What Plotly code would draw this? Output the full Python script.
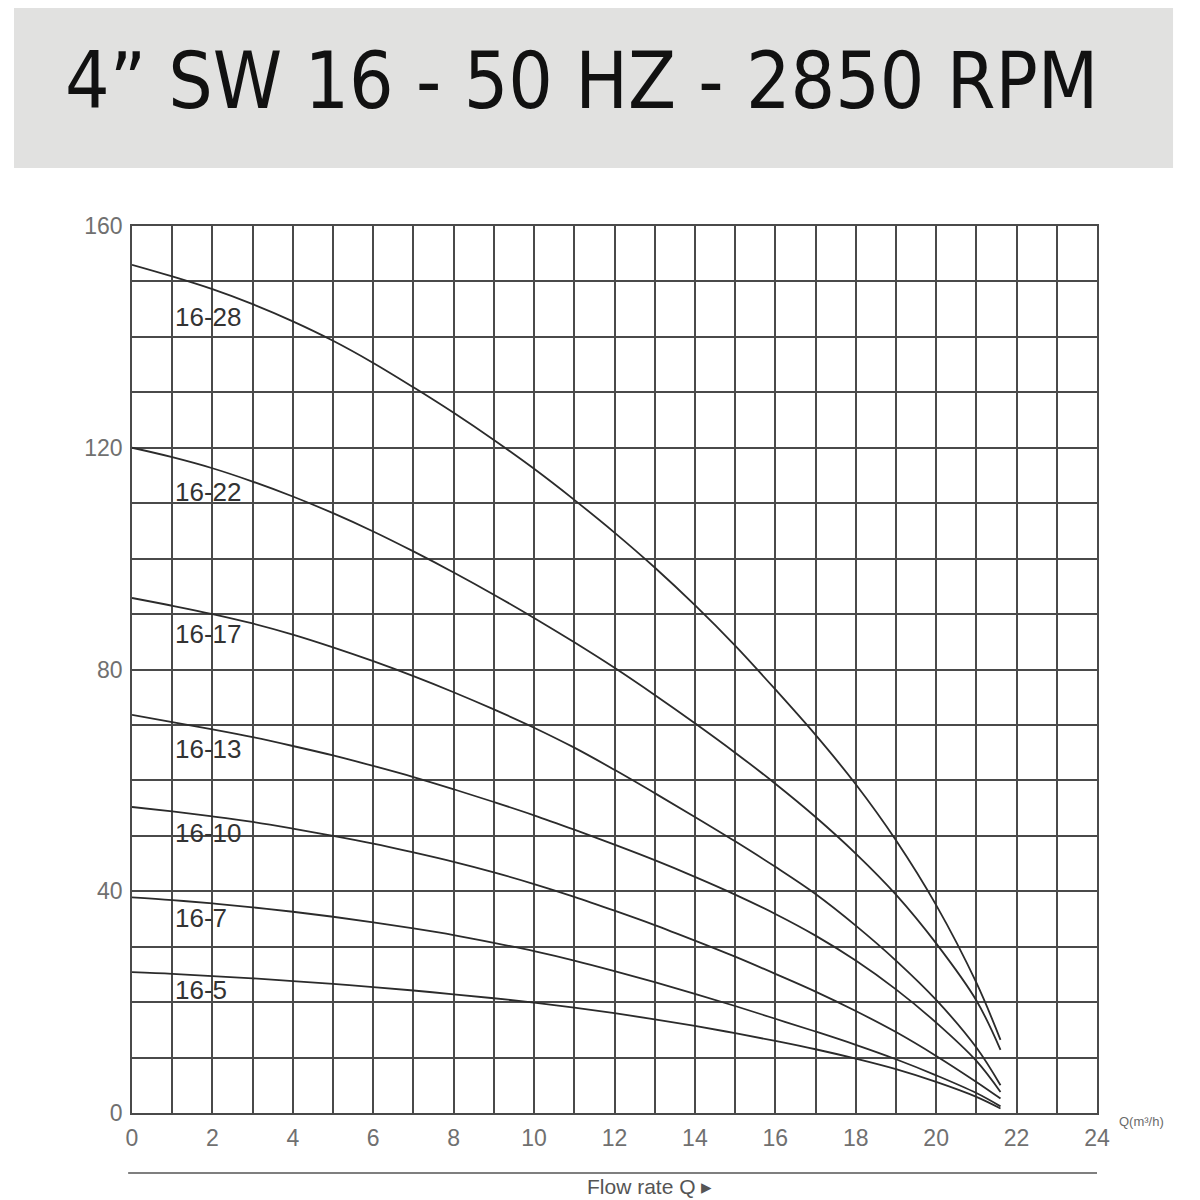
import plotly.graph_objects as go

flow = [0, 1, 2, 3, 4, 5, 6, 7, 8, 9, 10, 11, 12, 13, 14, 15, 16, 17, 18, 19, 20, 21, 21.6]

# head (m) for each pump model
head_16_28 = [153, 150.9, 148.6, 145.9, 142.8, 139.3, 135.3, 130.9, 126.3, 121.4, 116.2, 110.6,
              104.7, 98.4, 91.6, 84.3, 76.4, 68.2, 59.3, 49.2, 37.5, 23.5, 13.2]
head_16_22 = [120, 118.3, 116.3, 113.9, 111.2, 108.2, 104.9, 101.3, 97.5, 93.5, 89.3, 84.9,
              80.3, 75.4, 70.3, 65, 59.4, 53.4, 46.8, 39.4, 30.6, 20.3, 11.4]
head_16_17 = [92.9, 91.5, 90, 88.3, 86.3, 84, 81.5, 78.8, 75.9, 72.8, 69.5, 65.9,
              61.9, 57.7, 53.4, 49, 44.4, 39.5, 33.8, 27.5, 20.4, 11.8, 5]
head_16_13 = [71.8, 70.5, 69.2, 67.8, 66.2, 64.5, 62.6, 60.6, 58.4, 56.1, 53.7, 51.1,
              48.4, 45.6, 42.6, 39.4, 35.9, 32, 27.5, 22.3, 16.3, 9.4, 3.8]
head_16_10 = [55.2, 54.4, 53.5, 52.5, 51.3, 50, 48.6, 47, 45.3, 43.4, 41.3, 39,
              36.5, 33.9, 31.1, 28.2, 25.1, 21.9, 18.4, 14.6, 10.3, 5.6, 2.6]
head_16_7 = [38.9, 38.4, 37.8, 37.1, 36.3, 35.4, 34.4, 33.3, 32.1, 30.7, 29.2, 27.5,
             25.6, 23.6, 21.5, 19.3, 17, 14.7, 12.3, 9.7, 6.8, 3.6, 1.2]
head_16_5 = [25.4, 25.1, 24.7, 24.3, 23.8, 23.3, 22.7, 22.1, 21.4, 20.7, 19.9, 19,
             18, 16.9, 15.7, 14.4, 13, 11.5, 9.8, 7.9, 5.6, 2.9, 0.8]

models = ["16-28", "16-22", "16-17", "16-13", "16-10", "16-7", "16-5"]
heads = [head_16_28, head_16_22, head_16_17, head_16_13, head_16_10, head_16_7, head_16_5]
# where the model name sits (head value, next to the left edge)
label_heads = [143.6, 112, 86.4, 65.7, 50.5, 35.2, 22.2]

title_text = "4\u201d SW 16 - 50 HZ - 2850 RPM"

FONT = "Liberation Sans, Arial, sans-serif"

fig = go.Figure()

for name, h in zip(models, heads):
    fig.add_trace(go.Scatter(
        x=flow, y=h, name=name, mode="lines",
        line=dict(color="#2b2b2b", width=1.8, shape="spline", smoothing=1.0),
        showlegend=False))

for name, lh in zip(models, label_heads):
    fig.add_annotation(x=1.02, y=lh, text=name, showarrow=False,
                       xanchor="left", yanchor="middle",
                       font=dict(size=26, color="#333333", family=FONT))

grid_col = "#4a4a4a"

fig.update_xaxes(
    range=[0, 24], dtick=2, tick0=0,
    showgrid=True, gridcolor=grid_col, gridwidth=1.6,
    minor=dict(dtick=1, showgrid=True, gridcolor=grid_col, gridwidth=1.6),
    showline=True, linecolor=grid_col, linewidth=1.6, mirror=True,
    ticks="", zeroline=False, ticklabelstandoff=4,
    tickfont=dict(size=23, color="#707070", family=FONT))
fig.update_yaxes(
    range=[0, 160], dtick=40, tick0=0,
    showgrid=True, gridcolor=grid_col, gridwidth=1.6,
    minor=dict(dtick=10, showgrid=True, gridcolor=grid_col, gridwidth=1.6),
    showline=True, linecolor=grid_col, linewidth=1.6, mirror=True,
    ticks="", zeroline=False, ticklabelstandoff=3,
    tickfont=dict(size=23, color="#707070", family=FONT))

# grey title band
fig.add_shape(type="rect", xref="paper", yref="paper",
              x0=-0.1223, x1=1.0788, y0=1.0654, y1=1.2492,
              fillcolor="#e1e1e0", line=dict(width=0), layer="below")
fig.add_annotation(xref="paper", yref="paper", x=0.4653, y=1.164,
                   text=title_text, showarrow=False,
                   xanchor="center", yanchor="middle",
                   font=dict(size=78, color="#111111",
                             family="DejaVu Sans Condensed, Liberation Sans Narrow, Roboto Condensed, sans-serif"))

# unit label next to the last tick
fig.add_annotation(xref="paper", yref="paper", x=1.021, y=-0.01,
                   text="Q(m\u00b3/h)", showarrow=False,
                   xanchor="left", yanchor="middle",
                   font=dict(size=13, color="#6a6a6a", family=FONT))

# rule below the axis and the axis caption
fig.add_shape(type="line", xref="paper", yref="paper",
              x0=-0.004, x1=1.0, y0=-0.0676, y1=-0.0676,
              line=dict(color="#555555", width=1.6))
fig.add_annotation(xref="paper", yref="paper", x=0.536, y=-0.0823,
                   text="Flow rate Q \u25b8", showarrow=False,
                   xanchor="center", yanchor="middle",
                   font=dict(size=21, color="#555555", family=FONT))

# the page puts the figure 8px in from the top-left corner
fig.update_layout(
    width=1200, height=1200,
    margin=dict(l=124, r=111, t=218, b=95),
    paper_bgcolor="white", plot_bgcolor="white")

fig.write_html("out.html")
